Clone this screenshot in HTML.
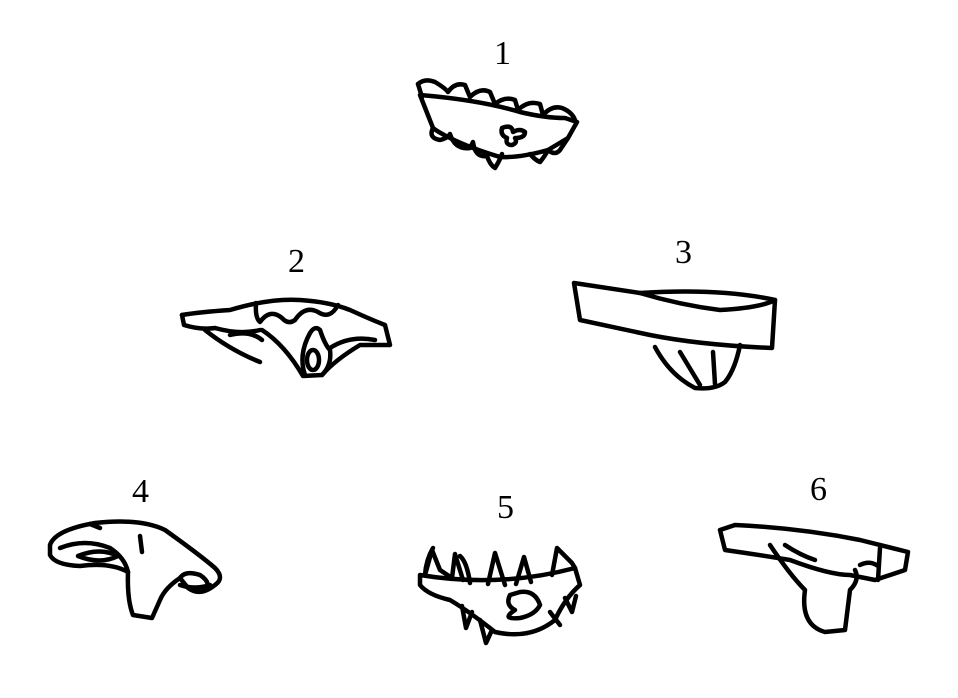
<!DOCTYPE html>
<html><head><style>
html,body{margin:0;padding:0;background:#fff;width:958px;height:698px;overflow:hidden}
svg{display:block}
text{font-family:"Liberation Serif",serif;font-size:34px;fill:#000}
</style></head><body>
<svg width="958" height="698" viewBox="0 0 958 698" fill="none" stroke="#000" stroke-width="4.5" stroke-linejoin="round" stroke-linecap="round">
<text x="494" y="64" stroke="none">1</text>
<text x="288" y="272" stroke="none">2</text>
<text x="675" y="263" stroke="none">3</text>
<text x="132" y="502" stroke="none">4</text>
<text x="497" y="518" stroke="none">5</text>
<text x="810" y="500" stroke="none">6</text>

<!-- 1 -->
<path d="M420,95 Q480,100 520,112 Q545,118 565,118 L577,122 L568,138 L548,150 Q520,158 500,157 Q470,148 450,138 Q438,132 433,128 Z"/>
<path d="M418,84 Q425,78 435,82 Q445,88 448,92 Q455,82 465,85 L470,97 Q480,87 490,92 L495,104 Q505,96 515,100 L518,110 Q528,100 540,104 L543,115 Q552,105 562,108 Q572,112 575,120"/>
<path d="M418,84 L422,97"/>
<path d="M433,128 Q428,138 440,140 Q448,138 450,134 Q455,150 470,148 L473,142 Q475,158 487,156 Q490,165 495,168 Q500,160 502,154"/>
<path d="M530,154 Q535,160 540,162 Q545,156 548,150 Q555,156 560,150 L568,138"/>
<path d="M502,128 Q500,135 507,138 Q505,145 512,145 Q518,143 515,138 Q525,138 525,132 Q520,128 513,132 Q512,124 502,128 Z"/>

<!-- 2 -->
<path d="M182,315 Q200,312 230,310 Q270,298 300,300 Q330,302 350,310 Q372,320 385,325 L390,345 L360,345 Q335,360 322,375 L303,376 Q285,345 262,330"/>
<path d="M182,315 L184,325 Q200,330 215,328 Q240,335 260,330"/>
<path d="M205,330 Q230,350 260,362"/>
<path d="M230,335 Q250,330 262,340"/>
<path d="M256,303 Q255,318 260,322 Q270,308 282,318 Q288,325 295,320 Q305,305 318,312 Q330,320 338,305"/>
<path d="M320,330 Q325,345 330,350 Q332,365 322,375 M305,375 Q298,355 310,333 Q315,325 320,330"/>
<ellipse cx="313" cy="360" rx="6" ry="10"/>
<path d="M330,348 Q350,335 375,340"/>

<!-- 3 -->
<path d="M574,283 L640,293 Q720,288 775,300 L772,348 Q700,345 650,335 L580,320 Z"/>
<path d="M640,293 Q680,305 720,310 Q760,308 775,300"/>
<path d="M655,347 Q670,375 695,388 Q715,390 725,382 Q735,370 740,345"/>
<path d="M680,352 L700,385 M713,352 L715,384"/>

<!-- 4 -->
<path d="M50,545 Q55,530 95,523 Q140,518 165,530 Q200,555 215,568 Q225,578 215,585 Q200,597 188,588 L180,578 Q165,588 160,600 L152,618 L133,615 Q127,600 128,572 Q110,562 80,566 Q55,565 50,555 Z"/>
<path d="M60,548 Q85,538 110,548 Q125,558 128,572"/>
<path d="M78,556 Q100,565 118,556 Q100,547 78,556 Z"/>
<path d="M180,578 Q185,570 200,575 Q212,583 205,590"/>
<path d="M180,585 Q195,590 210,585"/>
<path d="M140,536 L142,552"/>
<path d="M90,524 L100,528"/>

<!-- 5 -->
<path d="M420,575 Q500,588 575,568 L580,585 Q565,598 555,620 Q530,640 495,632 Q470,612 450,600 Q428,595 420,585 Z"/>
<path d="M425,575 L432,550 L440,570 L452,578 L455,554 L463,580 M488,584 L495,553 L505,585 M516,584 L524,557 L531,582 M552,575 L557,548 L572,563 L575,568"/>
<path d="M433,548 Q426,560 425,575 M470,583 Q467,562 460,556"/>
<path d="M462,606 L466,628 L472,612 M480,620 L486,643 L492,630 M550,612 L560,625 M565,598 L572,612 L576,596"/>
<path d="M510,595 Q505,605 515,610 Q500,620 520,618 Q535,615 540,605 Q535,590 520,592 Z"/>

<!-- 6 -->
<path d="M720,530 L725,550 Q760,555 790,560 Q830,575 850,575 L875,580 L905,570 L908,552 Q880,545 860,540 Q800,528 735,525 Z"/>
<path d="M880,548 L878,580 M860,565 Q870,560 878,566"/>
<path d="M770,545 Q790,575 805,590 Q800,625 825,632 L845,630 L850,590 Q860,580 855,570"/>
<path d="M785,545 Q800,555 815,560"/>
</svg>
</body></html>
